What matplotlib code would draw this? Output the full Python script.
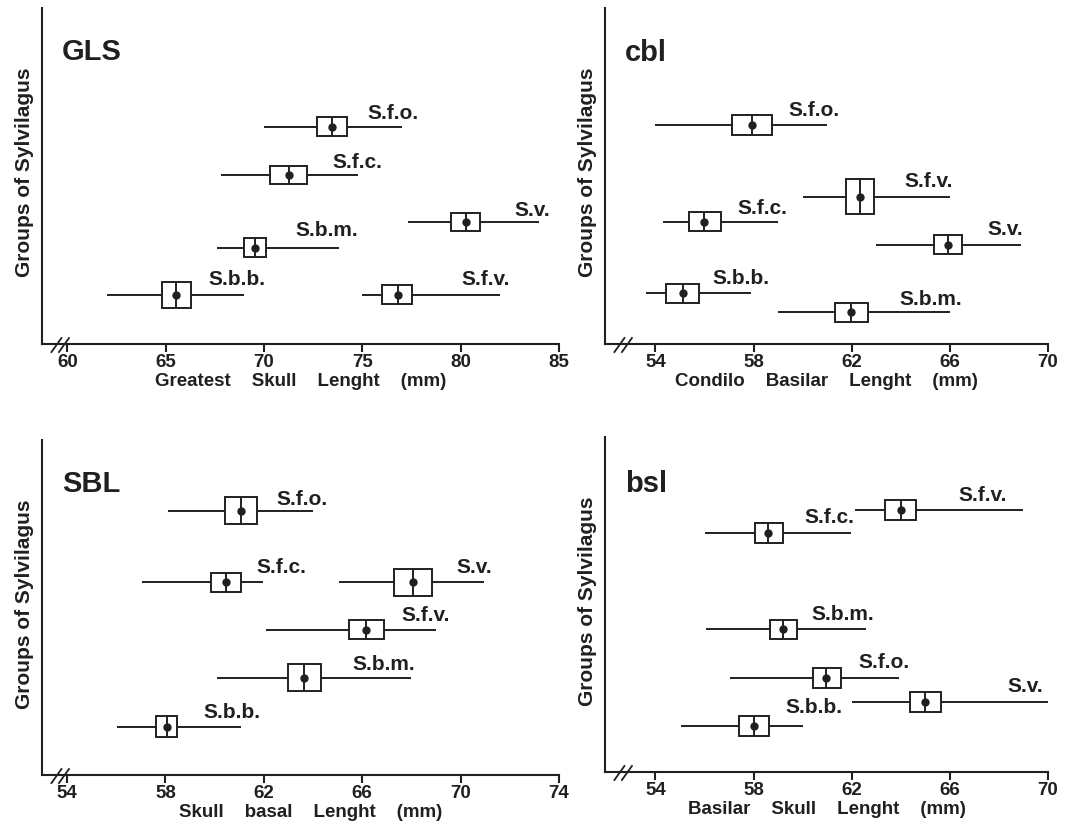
import numpy as np
import matplotlib
matplotlib.use('Agg')
import matplotlib.pyplot as plt
import matplotlib.transforms as mtransforms
from matplotlib.patches import Rectangle

plt.rcParams['font.family'] = ['Liberation Sans', 'DejaVu Sans']
plt.rcParams['font.weight'] = 'bold'
plt.rcParams['axes.labelweight'] = 'bold'

INK = '#231f20'

# GLS - greatest skull length (mm)
gls_groups = ['S.f.o.', 'S.f.c.', 'S.v.', 'S.b.m.', 'S.b.b.', 'S.f.v.']
gls_min = [70.0, 67.8, 77.3, 67.6, 62.0, 75.0]
gls_max = [77.0, 74.8, 84.0, 73.8, 69.0, 82.0]
gls_lo = [72.7, 70.3, 79.5, 69.0, 64.8, 76.0]
gls_hi = [74.2, 72.2, 81.0, 70.1, 66.3, 77.5]
gls_mean = [73.45, 71.25, 80.25, 69.55, 65.5, 76.8]
gls_row = [0.647, 0.504, 0.363, 0.287, 0.145, 0.147]
gls_boxh = [0.055, 0.054, 0.055, 0.056, 0.078, 0.056]

# cbl - condilo basilar length (mm)
cbl_groups = ['S.f.o.', 'S.f.v.', 'S.f.c.', 'S.v.', 'S.b.b.', 'S.b.m.']
cbl_min = [54.0, 60.0, 54.3, 63.0, 53.6, 59.0]
cbl_max = [61.0, 66.0, 59.0, 68.9, 57.9, 66.0]
cbl_lo = [57.14, 61.76, 55.35, 65.36, 54.45, 61.33]
cbl_hi = [58.76, 62.9, 56.67, 66.5, 55.79, 62.66]
cbl_mean = [57.94, 62.34, 55.98, 65.92, 55.12, 61.98]
cbl_row = [0.651, 0.439, 0.364, 0.295, 0.151, 0.094]
cbl_boxh = [0.060, 0.103, 0.056, 0.057, 0.056, 0.056]

# SBL - skull basal length (mm)
sbl_groups = ['S.f.o.', 'S.f.c.', 'S.v.', 'S.f.v.', 'S.b.m.', 'S.b.b.']
sbl_min = [58.1, 57.06, 65.07, 62.08, 60.1, 56.02]
sbl_max = [64.0, 61.98, 70.93, 69.0, 68.0, 61.07]
sbl_lo = [60.41, 59.86, 67.3, 65.47, 63.0, 57.62]
sbl_hi = [61.71, 61.07, 68.82, 66.89, 64.32, 58.49]
sbl_mean = [61.07, 60.45, 68.07, 66.16, 63.64, 58.07]
sbl_row = [0.789, 0.575, 0.575, 0.434, 0.291, 0.144]
sbl_boxh = [0.082, 0.059, 0.079, 0.058, 0.082, 0.062]

# bsl - basilar skull length (mm)
bsl_groups = ['S.f.v.', 'S.f.c.', 'S.b.m.', 'S.f.o.', 'S.v.', 'S.b.b.']
bsl_min = [62.12, 56.02, 56.07, 57.03, 62.02, 55.04]
bsl_max = [69.0, 61.97, 62.57, 63.92, 70.0, 60.03]
bsl_lo = [63.36, 58.04, 58.65, 60.43, 64.37, 57.41]
bsl_hi = [64.64, 59.18, 59.78, 61.56, 65.62, 58.64]
bsl_mean = [63.99, 58.6, 59.2, 60.97, 65.0, 58.0]
bsl_row = [0.781, 0.713, 0.426, 0.281, 0.208, 0.136]
bsl_boxh = [0.059, 0.058, 0.058, 0.058, 0.059, 0.060]

# where the group names sit (x in mm, y in axes fraction)
gls_lab = ([75.27, 73.5, 82.75, 71.62, 67.19, 80.04], [0.685, 0.541, 0.398, 0.339, 0.193, 0.193])
cbl_lab = ([59.43, 64.14, 57.34, 67.55, 56.32, 63.96], [0.695, 0.484, 0.402, 0.340, 0.196, 0.134])
sbl_lab = ([62.5, 61.7, 69.82, 67.59, 65.6, 59.54], [0.823, 0.619, 0.619, 0.476, 0.331, 0.186])
bsl_lab = ([66.35, 60.07, 60.37, 62.28, 68.35, 59.28], [0.826, 0.759, 0.471, 0.326, 0.256, 0.191])

fig = plt.figure(figsize=(10.65, 8.26), dpi=100)


def draw_panel(rect, title, title_y, xlabel, xlim, xticks, groups, wmin, wmax,
               blo, bhi, mean, rows, boxh, lab, xlabel_x=0.5):
    ax = fig.add_axes(rect)
    rows = np.array(rows)
    boxh = np.array(boxh)
    ax.hlines(rows, wmin, wmax, color=INK, lw=1.4, zorder=1)
    for lo, hi, y, h in zip(blo, bhi, rows, boxh):
        ax.add_patch(Rectangle((lo, y - h / 2), hi - lo, h, facecolor='white',
                               edgecolor=INK, lw=1.4, zorder=2))
    ax.vlines(mean, rows - boxh / 2, rows + boxh / 2, color=INK, lw=1.4, zorder=3)
    ax.plot(mean, rows, 'o', ms=5, color=INK, zorder=4)
    for name, x, y in zip(groups, lab[0], lab[1]):
        ax.text(x, y, name, fontsize=15, va='center', ha='left', color=INK,
                transform=ax.get_xaxis_transform())

    ax.set_xlim(xlim)
    ax.set_ylim(0, 1)
    ax.set_xticks(xticks)
    ax.set_yticks([])
    for s in ['top', 'right']:
        ax.spines[s].set_visible(False)
    for s in ['left', 'bottom']:
        ax.spines[s].set_linewidth(1.5)
        ax.spines[s].set_color(INK)
    ax.tick_params(axis='x', direction='out', length=5.8, width=1.5, pad=1.5,
                   labelsize=13.5, colors=INK)

    # inches measured from the lower left corner of the axes
    trans = fig.dpi_scale_trans + mtransforms.ScaledTranslation(0, 0, ax.transAxes)
    ax.text(0.20, title_y, title, fontsize=21, va='center', ha='left', color=INK,
            transform=mtransforms.blended_transform_factory(trans, ax.transAxes))

    ax.set_xlabel(xlabel, fontsize=13.5, color=INK)
    ax.xaxis.set_label_coords(xlabel_x, -0.086)
    ax.set_ylabel('Groups of Sylvilagus', fontsize=15, color=INK)
    ax.yaxis.set_label_coords(-0.016 * 517 / (rect[2] * 1065), 0.51)

    # axis break marks
    for x0 in (0.095, 0.17):
        ax.plot([x0, x0 + 0.10], [-0.08, 0.06], transform=trans, color=INK,
                lw=1.3, clip_on=False)
    return ax


sp = '    '
draw_panel([0.0394, 0.5835, 0.4855, 0.4068], 'GLS', 0.870,
           sp.join(['Greatest', 'Skull', 'Lenght', '(mm)']),
           (58.71, 85), [60, 65, 70, 75, 80, 85], gls_groups, gls_min, gls_max,
           gls_lo, gls_hi, gls_mean, gls_row, gls_boxh, gls_lab)
draw_panel([0.568, 0.5835, 0.416, 0.4068], 'cbl', 0.867,
           sp.join(['Condilo', 'Basilar', 'Lenght', '(mm)']),
           (51.94, 70), [54, 58, 62, 66, 70], cbl_groups, cbl_min, cbl_max,
           cbl_lo, cbl_hi, cbl_mean, cbl_row, cbl_boxh, cbl_lab)
draw_panel([0.0394, 0.0617, 0.4855, 0.4056], 'SBL', 0.869,
           sp.join(['Skull', 'basal', 'Lenght', '(mm)']),
           (52.98, 74), [54, 58, 62, 66, 70, 74], sbl_groups, sbl_min, sbl_max,
           sbl_lo, sbl_hi, sbl_mean, sbl_row, sbl_boxh, sbl_lab, xlabel_x=0.52)
draw_panel([0.568, 0.0654, 0.416, 0.4056], 'bsl', 0.859,
           sp.join(['Basilar', 'Skull', 'Lenght', '(mm)']),
           (51.94, 70), [54, 58, 62, 66, 70], bsl_groups, bsl_min, bsl_max,
           bsl_lo, bsl_hi, bsl_mean, bsl_row, bsl_boxh, bsl_lab)

fig.savefig('out.png', dpi=100)
